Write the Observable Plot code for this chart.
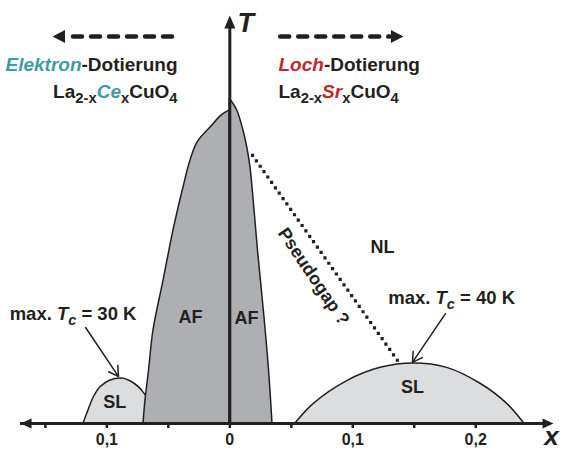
<!DOCTYPE html>
<html><head><meta charset="utf-8">
<script src="https://cdn.jsdelivr.net/npm/d3@7"></script>
<script src="https://cdn.jsdelivr.net/npm/@observablehq/plot@0.6"></script>
<style>
html,body{margin:0;padding:0;background:#fff;}
#chart svg{display:block;}
</style></head><body><div id="chart"></div>
<script>
// ---------- data ----------
const xDomain = [-0.18, 0.26];          // doping (electron side negative)
const tDomain = [0, 270];               // temperature (K)

const xTickValues = [-0.15, -0.1, -0.05, 0, 0.05, 0.1, 0.15, 0.2];
const xTickLabels = ["", "0,1", "", "0", "", "0,1", "", "0,2"];

// antiferromagnetic region, electron side (boundary x as function of T)
const afElecT = [0, 15.3, 35.3, 62, 95.3, 128.7, 157.3, 175.3, 187.3, 197.3, 205.3, 208.7];
const afElecX = [-0.0702, -0.0686, -0.0657, -0.0621, -0.0539, -0.0458, -0.0377, -0.0320, -0.0263, -0.0157, -0.0068, 0];
// antiferromagnetic region, hole side
const afHoleT = [0, 35.3, 70.7, 115.3, 142, 170.7, 184, 195.3, 208.7, 216.5];
const afHoleX = [0.0347, 0.0319, 0.0282, 0.0229, 0.0201, 0.0168, 0.0142, 0.0111, 0.0060, 0];
// superconducting dome, electron side (max Tc = 30 K)
const slElecX = [-0.1190, -0.1160, -0.1106, -0.1052, -0.0970, -0.0875, -0.0794, -0.0726, -0.0694, -0.0640];
const slElecT = [0, 6.4, 17.5, 24.2, 28.7, 30, 27.5, 23.1, 19.8, 15];
// superconducting dome, hole side (max Tc = 40 K)
const slHoleX = [0.0534, 0.0683, 0.0955, 0.1226, 0.1496, 0.1768, 0.2039, 0.2256, 0.2394];
const slHoleT = [0, 13.1, 28.3, 37.1, 40, 37.1, 26.5, 13.1, 0];
// pseudogap line
const pseudogapX = [0.0185, 0.1364];
const pseudogapT = [178.7, 42];

// axes extents (arrow tips)
const xAxisTips = [-0.1702, 0.2633];
const tAxisTip = 272;

// doping direction arrows at the top
const dirArrowT = 258;
const elecArrowX = [-0.0470, -0.1330];
const elecArrowTip = -0.1442;
const holeArrowX = [0.0410, 0.1300];
const holeArrowTip = 0.1412;

// region labels
const regionNames = ["AF", "AF", "SL", "SL", "NL"];
const regionX = [-0.0320, 0.0136, -0.0935, 0.1486, 0.1242];
const regionT = [70.7, 70, 14, 24, 117.3];

// annotation texts and arrows
const tcTexts = ["max. Tc = 30 K", "max. Tc = 40 K"];
const tcTextX = [-0.1275, 0.1804];
const tcTextT = [68.7, 80];
const tcArrowX1 = [-0.1173, 0.1754];
const tcArrowT1 = [64, 73.3];
const tcArrowX2 = [-0.0905, 0.1485];
const tcArrowT2 = [31.3, 40.7];

const headTextsElec = ["Elektron-Dotierung", "La2-xCexCuO4"];
const headTextsHole = ["Loch-Dotierung", "La2-xSrxCuO4"];
const headElecX = -0.0425;
const headHoleX = 0.0396;
const headT = [235.3, 217.3];

const pseudogapLabel = "Pseudogap ?";
const pseudogapLabelX = 0.0681;
const pseudogapLabelT = 98;

// rich text segments
const richText = new Map([
  ["Elektron-Dotierung", [["Elektron", "it teal"], ["-Dotierung", ""]]],
  ["Loch-Dotierung", [["Loch", "it red"], ["-Dotierung", ""]]],
  ["La2-xCexCuO4", [["La", ""], ["2-x", "sub"], ["Ce", "it teal"], ["x", "sub"], ["CuO", ""], ["4", "sub"]]],
  ["La2-xSrxCuO4", [["La", ""], ["2-x", "sub"], ["Sr", "it red"], ["x", "sub"], ["CuO", ""], ["4", "sub"]]],
  ["max. Tc = 30 K", [["max. ", ""], ["T", "it"], ["c", "it sub"], [" = 30 K", ""]]],
  ["max. Tc = 40 K", [["max. ", ""], ["T", "it"], ["c", "it sub"], [" = 40 K", ""]]]
]);

// ---------- styles ----------
const INK = "#231f20";
const TEAL = "#3f9ca5";
const RED = "#c1272d";
const AF_FILL = "#aeafb2";
const SL_FILL = "#dcdddf";
const FONT = "'Liberation Sans', Arial, Helvetica, sans-serif";

const afElec = afElecT.map((T, i) => ({T, x: afElecX[i]}));
const afHole = afHoleT.map((T, i) => ({T, x: afHoleX[i]}));
const slElec = slElecX.map((x, i) => ({x, T: slElecT[i]}));
const slHole = slHoleX.map((x, i) => ({x, T: slHoleT[i]}));
const pseudogap = pseudogapX.map((x, i) => ({x, T: pseudogapT[i]}));
const regions = regionNames.map((n, i) => ({n, x: regionX[i], T: regionT[i]}));
const tcLabels = tcTexts.map((s, i) => ({s, x: tcTextX[i], T: tcTextT[i]}));
const tcArrows = tcTexts.map((s, i) => ({x1: tcArrowX1[i], y1: tcArrowT1[i], x2: tcArrowX2[i], y2: tcArrowT2[i]}));
const headsElec = headTextsElec.map((s, i) => ({s, x: headElecX, T: headT[i]}));
const headsHole = headTextsHole.map((s, i) => ({s, x: headHoleX, T: headT[i]}));
const tickLabels = xTickValues.map((v, i) => ({x: v, s: xTickLabels[i]})).filter(d => d.s !== "");

const triRight = {draw(c) { c.moveTo(0, 0); c.lineTo(-12.5, -6.5); c.lineTo(-12.5, 6.5); c.closePath(); }};
const triLeft  = {draw(c) { c.moveTo(0, 0); c.lineTo(12.5, -6.5); c.lineTo(12.5, 6.5); c.closePath(); }};
const triUp    = {draw(c) { c.moveTo(0, 0); c.lineTo(-5.5, 13); c.lineTo(5.5, 13); c.closePath(); }};
const triRightSm = {draw(c) { c.moveTo(0, 0); c.lineTo(-11, -5); c.lineTo(-11, 5); c.closePath(); }};
const triLeftSm  = {draw(c) { c.moveTo(0, 0); c.lineTo(11, -5); c.lineTo(11, 5); c.closePath(); }};

const chart = Plot.plot({
  width: 563,
  height: 449,
  marginTop: 18,
  marginBottom: 26,
  marginLeft: 8,
  marginRight: 14,
  style: {fontFamily: FONT, fontWeight: "bold", color: INK, background: "#fff", overflow: "visible"},
  x: {domain: xDomain, axis: null},
  y: {domain: tDomain, axis: null},
  marks: [
    // superconducting domes
    Plot.areaY(slElec, {x: "x", y1: 0, y2: "T", curve: "catmull-rom", fill: SL_FILL, stroke: INK, strokeWidth: 1.5}),
    Plot.areaY(slHole, {x: "x", y1: 0, y2: "T", curve: "catmull-rom", fill: SL_FILL, stroke: INK, strokeWidth: 1.5}),
    // antiferromagnetic regions
    Plot.areaX(afElec, {y: "T", x1: "x", x2: 0, curve: "catmull-rom", fill: AF_FILL, stroke: INK, strokeWidth: 1.5}),
    Plot.areaX(afHole, {y: "T", x1: 0, x2: "x", curve: "catmull-rom", fill: AF_FILL, stroke: INK, strokeWidth: 1.5}),
    // pseudogap
    Plot.line(pseudogap, {x: "x", y: "T", stroke: INK, strokeWidth: 3.2, strokeDasharray: "0,6.6", strokeLinecap: "square"}),
    // x axis ticks and labels
    Plot.axisX({ticks: xTickValues, tickFormat: () => "", tickSize: 5, strokeWidth: 2.5, color: INK, anchor: "bottom"}),
    Plot.text(tickLabels, {x: "x", y: 0, text: "s", dy: 16.5, fontSize: 16, fontWeight: "bold", fill: INK}),
    // axis lines
    Plot.ruleY([0], {x1: xAxisTips[0], x2: xAxisTips[1] - 0.005, stroke: INK, strokeWidth: 3}),
    Plot.ruleX([0], {y1: 0, y2: tAxisTip - 6, stroke: INK, strokeWidth: 3}),
    Plot.dot([0], {x: xAxisTips[1], y: 0, symbol: triRightSm, fill: INK, stroke: "none"}),
    Plot.dot([0], {x: xAxisTips[0], y: 0, symbol: triLeftSm, fill: INK, stroke: "none"}),
    Plot.dot([0], {x: 0, y: tAxisTip, symbol: triUp, fill: INK, stroke: "none"}),
    Plot.text(["T"], {x: 0, y: tAxisTip - 5, dx: 16, fontSize: 27, fontStyle: "italic", fontWeight: "bold", fill: INK}),
    Plot.text(["x"], {x: xAxisTips[1], y: 0, dx: -2, dy: 13, fontSize: 26, fontStyle: "italic", fontWeight: "bold", fill: INK}),
    // direction arrows
    Plot.line(elecArrowX.map(x => ({x, T: dirArrowT})), {x: "x", y: "T", stroke: INK, strokeWidth: 4.5, strokeDasharray: "9,9", strokeLinecap: "round"}),
    Plot.dot([0], {x: elecArrowTip, y: dirArrowT, symbol: triLeft, fill: INK, stroke: "none"}),
    Plot.line(holeArrowX.map(x => ({x, T: dirArrowT})), {x: "x", y: "T", stroke: INK, strokeWidth: 4.5, strokeDasharray: "9,9", strokeLinecap: "round"}),
    Plot.dot([0], {x: holeArrowTip, y: dirArrowT, symbol: triRight, fill: INK, stroke: "none"}),
    // headings
    Plot.text(headsElec, {x: "x", y: "T", text: "s", textAnchor: "end", lineAnchor: "bottom", fontSize: 19, fontWeight: "bold", fill: INK}),
    Plot.text(headsHole, {x: "x", y: "T", text: "s", textAnchor: "start", lineAnchor: "bottom", fontSize: 19, fontWeight: "bold", fill: INK}),
    // labels
    Plot.text(regions, {x: "x", y: "T", text: "n", fontSize: 18, fontWeight: "bold", fill: INK}),
    Plot.text([pseudogapLabel], {x: pseudogapLabelX, y: pseudogapLabelT, rotate: 56, fontSize: 18, fontWeight: "bold", fill: INK}),
    Plot.text(tcLabels, {x: "x", y: "T", text: "s", lineAnchor: "bottom", fontSize: 18.5, fontWeight: "bold", fill: INK}),
    Plot.arrow(tcArrows, {x1: "x1", y1: "y1", x2: "x2", y2: "y2", stroke: INK, strokeWidth: 1.5, headLength: 11})
  ]
});

// enrich texts with sub-scripts and coloured parts
const NS = "http://www.w3.org/2000/svg";
chart.querySelectorAll("text").forEach(t => {
  const parts = richText.get(t.textContent);
  if (!parts) return;
  while (t.firstChild) t.removeChild(t.firstChild);
  let shifted = false;
  for (const [str, kind] of parts) {
    const ts = document.createElementNS(NS, "tspan");
    ts.textContent = str;
    const sub = kind.includes("sub");
    if (sub && !shifted) { ts.setAttribute("dy", "5"); shifted = true; }
    else if (!sub && shifted) { ts.setAttribute("dy", "-5"); shifted = false; }
    if (sub) ts.setAttribute("font-size", "0.78em");
    if (kind.includes("it")) ts.setAttribute("font-style", "italic");
    if (kind.includes("teal")) ts.setAttribute("fill", TEAL);
    if (kind.includes("red")) ts.setAttribute("fill", RED);
    t.appendChild(ts);
  }
});

document.getElementById("chart").appendChild(chart);
</script>
</body></html>
